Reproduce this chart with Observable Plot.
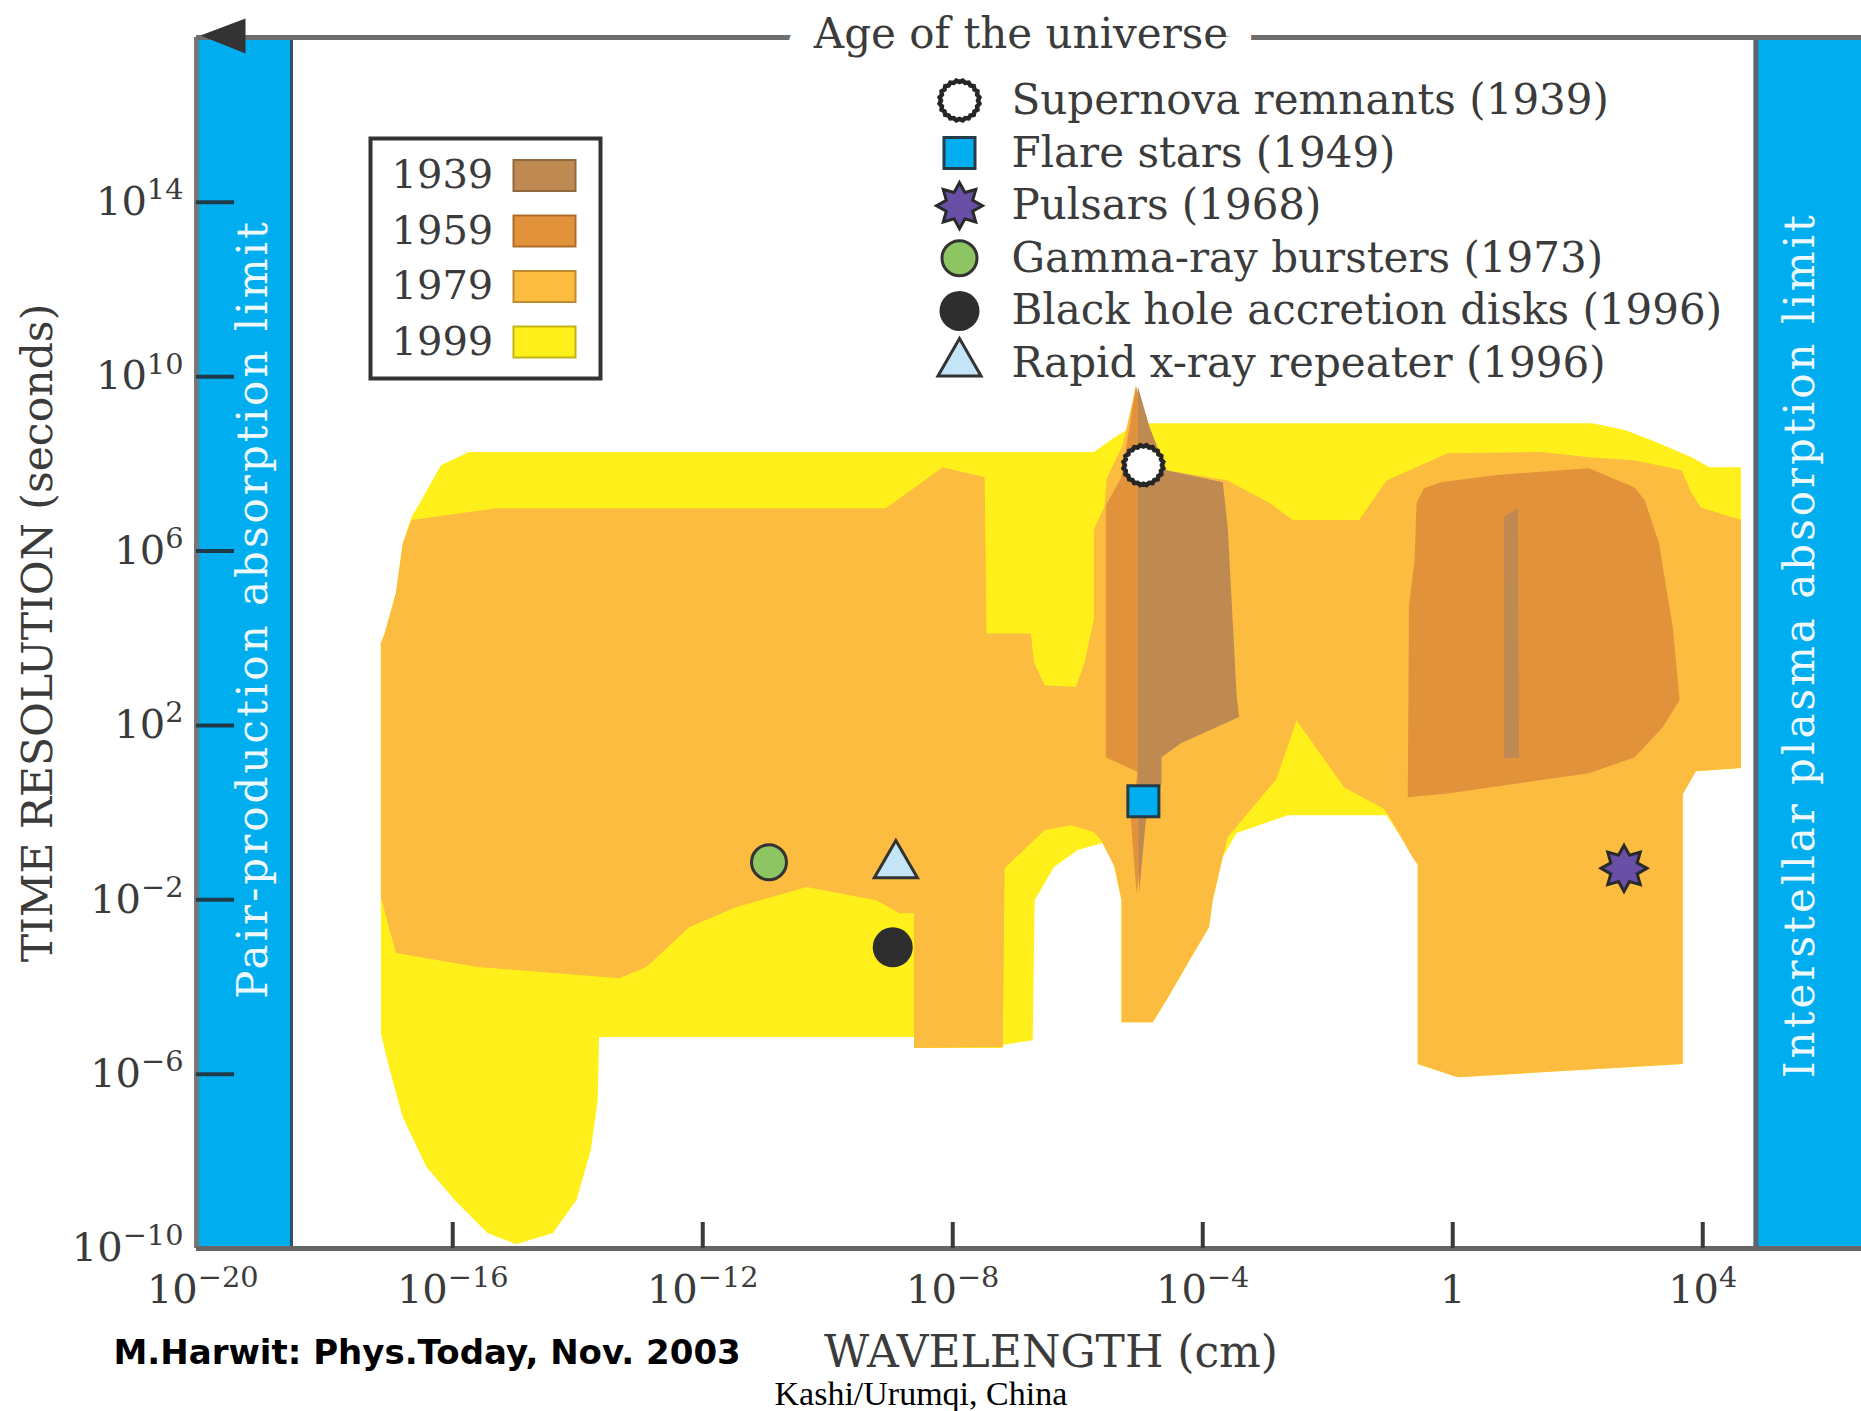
<!DOCTYPE html>
<html>
<head>
<meta charset="utf-8">
<script src="https://cdn.jsdelivr.net/npm/d3@7"></script>
<script src="https://cdn.jsdelivr.net/npm/@observablehq/plot@0.6"></script>
<style>
  html, body { margin: 0; padding: 0; background: #fff; overflow: hidden; }
  #chart { width: 1861px; height: 1411px; overflow: hidden; }
  #chart svg { max-width: none; }
</style>
</head>
<body>
<div id="chart"></div>
<script>
// ---- axes, in log10 units: wavelength (cm) and time resolution (s) ----
const wavelengthExtent = [-20.1, 6.54];
const timeExtent = [-10, 17.78];
const ageOfUniverse = 17.78;
const wavelengthTicks = [-20, -16, -12, -8, -4, 0, 4];
const timeTicks = [-10, -6, -2, 2, 6, 10, 14];

// ---- absorption limits (log10 cm) ----
const limitLabels = ["Pair-production absorption limit", "Interstellar plasma absorption limit"];
const limitFrom = [-20.1, 4.85];
const limitTo = [-18.58, 6.54];

// ---- observational coverage by year; outline vertices as [log10 λ, log10 t] ----
const eras = ["1939", "1959", "1979", "1999"];

const coverage1999 = [
  [-15.74, 8.27], [-5.74, 8.27], [-5.41, 8.61], [-5.04, 8.93], [2.24, 8.93], [2.77, 8.77],
  [3.30, 8.47], [3.82, 8.15], [4.11, 7.92], [4.61, 7.92], [4.61, 1.02], [3.89, 0.95],
  [3.68, 0.42], [3.68, -5.77], [0.08, -6.07], [-0.56, -5.77], [-0.56, -1.20], [-0.83, -0.56],
  [-1.06, -0.06], [-2.64, -0.06], [-3.46, -0.47], [-3.68, -1.02], [-3.84, -2.01], [-3.90, -2.63],
  [-4.21, -3.38], [-4.58, -4.30], [-4.80, -4.81], [-5.30, -4.81], [-5.30, -2.01], [-5.44, -1.09],
  [-5.60, -0.70], [-6.00, -0.86], [-6.38, -1.25], [-6.69, -2.01], [-6.72, -5.22], [-7.20, -5.33],
  [-7.20, -5.40], [-8.62, -5.40], [-8.62, -5.15], [-13.66, -5.15], [-13.68, -6.60], [-13.79, -7.74],
  [-14.02, -8.89], [-14.40, -9.65], [-14.99, -9.90], [-15.44, -9.65], [-15.97, -8.89], [-16.42, -8.13],
  [-16.80, -6.99], [-17.02, -5.84], [-17.15, -5.06], [-17.15, 3.89], [-17.09, 4.11], [-16.91, 5.03],
  [-16.80, 6.18], [-16.66, 6.78], [-16.50, 7.17], [-16.19, 7.97]
];

const coverage1979 = [
  [-16.66, 6.71], [-15.30, 6.98], [-9.07, 6.98], [-8.16, 7.92], [-7.49, 7.69], [-7.46, 4.11],
  [-6.75, 4.11], [-6.70, 3.45], [-6.53, 2.92], [-6.03, 2.88], [-5.89, 3.45], [-5.74, 4.46],
  [-5.74, 6.50], [-5.57, 7.03], [-5.54, 7.65], [-5.28, 8.43], [-5.07, 9.78], [-4.83, 8.54],
  [-4.58, 7.85], [-3.60, 7.62], [-2.93, 7.10], [-2.56, 6.71], [-1.50, 6.71], [-1.06, 7.62],
  [-0.08, 8.24], [1.42, 8.27], [2.18, 8.15], [2.91, 8.08], [3.66, 7.85], [3.82, 7.33],
  [3.97, 7.00], [4.61, 6.71], [4.61, 1.02], [3.89, 0.95], [3.68, 0.42], [3.68, -5.77],
  [0.08, -6.07], [-0.56, -5.77], [-0.56, -1.20], [-0.67, -0.97], [-0.99, -0.15], [-1.10, 0.08],
  [-1.74, 0.58], [-2.50, 2.12], [-2.82, 0.77], [-3.60, -0.56], [-3.68, -1.02], [-3.84, -2.01],
  [-3.90, -2.63], [-4.21, -3.38], [-4.58, -4.30], [-4.80, -4.81], [-5.30, -4.81], [-5.30, -2.01],
  [-5.41, -1.25], [-5.63, -0.63], [-5.74, -0.45], [-6.10, -0.29], [-6.53, -0.40], [-7.17, -1.28],
  [-7.20, -5.38], [-8.62, -5.40], [-8.62, -2.31], [-8.85, -2.31], [-9.22, -2.01], [-10.34, -1.71],
  [-11.47, -2.17], [-12.22, -2.63], [-12.90, -3.54], [-13.34, -3.80], [-15.60, -3.54], [-16.91, -3.22],
  [-17.15, -1.94], [-17.15, 3.89], [-17.09, 4.11], [-16.91, 5.03], [-16.80, 6.18]
];

const coverage1959 = [
  [[-5.07, 9.78], [-4.83, 8.54], [-4.83, 0.74], [-4.91, -0.17], [-5.06, -1.85], [-5.15, -0.17],
   [-5.04, 0.93], [-5.55, 1.27], [-5.55, 7.05], [-5.31, 7.67], [-5.18, 8.77]],
  [[-0.58, 7.10], [-0.46, 7.44], [-0.19, 7.58], [0.67, 7.74], [2.18, 7.90], [2.91, 7.46],
   [3.07, 7.17], [3.30, 6.18], [3.52, 4.25], [3.63, 2.58], [3.36, 1.96], [2.91, 1.27],
   [2.18, 0.90], [-0.08, 0.44], [-0.72, 0.35], [-0.70, 4.76], [-0.61, 5.79]]
];

const coverage1939 = [
  [[-5.04, 9.78], [-4.85, 8.84], [-4.58, 7.85], [-3.68, 7.58], [-3.60, 6.55], [-3.46, 2.74],
   [-3.42, 2.19], [-4.35, 1.59], [-4.66, 1.27], [-4.66, 0.67], [-4.91, -0.17], [-5.02, -1.85],
   [-5.04, 0.97]],
  [[0.82, 6.78], [1.04, 6.98], [1.06, 1.25], [0.82, 1.25]]
];

// ---- discoveries ----
const objectNames = ["Supernova remnants", "Flare stars", "Pulsars", "Gamma-ray bursters",
  "Black hole accretion disks", "Rapid x-ray repeater"];
const discoveryYear = [1939, 1949, 1968, 1973, 1996, 1996];
const objectWavelength = [-4.95, -4.95, 2.74, -10.94, -8.96, -8.91];
const objectTimescale = [7.97, 0.26, -1.28, -1.14, -3.09, -1.21];

// ---------------------------------------------------------------------------
const W = 1861, H = 1411;
const M = {top: 37, right: 0, bottom: 163, left: 196};
const frameW = W - M.left - M.right;
const frameH = H - M.top - M.bottom;
const ink = "#3b3b3b";
const eraFill = ["#BE8A52", "#E3923C", "#FCBC40", "#FFF01C"];
const bandBlue = "#00AEEF";

const SUP = {"-": "\u207B", "0": "\u2070", "1": "\u00B9", "2": "\u00B2", "3": "\u00B3",
  "4": "\u2074", "5": "\u2075", "6": "\u2076", "7": "\u2077", "8": "\u2078", "9": "\u2079"};
const pow10 = e => e === 0 ? "1" : "10" + String(e).replace(/[-0-9]/g, c => SUP[c]);

// outlines -> vertex rows, one series per piece, painted oldest on top
const outlines = [
  {era: "1999", pieces: [coverage1999]},
  {era: "1979", pieces: [coverage1979]},
  {era: "1959", pieces: coverage1959},
  {era: "1939", pieces: coverage1939}
];
const coverage = outlines.flatMap(({era, pieces}) =>
  pieces.flatMap((piece, k) => piece.map(([x, y]) => ({era, piece: `${era}-${k}`, x, y}))));

const limits = limitLabels.map((label, i) => ({label, x1: limitFrom[i], x2: limitTo[i]}));

// marker shapes
const sunburst = {
  draw(context, size) {
    const r = Math.sqrt(size / Math.PI), n = 20;
    for (let i = 0; i < 2 * n; ++i) {
      const a = (i * Math.PI) / n, rr = i % 2 ? r * 1.09 : r;
      const px = rr * Math.cos(a), py = rr * Math.sin(a);
      i ? context.lineTo(px, py) : context.moveTo(px, py);
    }
    context.closePath();
  }
};
const star8 = {
  draw(context, size) {
    const r = Math.sqrt(size / Math.PI), n = 8;
    for (let i = 0; i < 2 * n; ++i) {
      const a = (i * Math.PI) / n - Math.PI / 2, rr = i % 2 ? r * 0.62 : r;
      const px = rr * Math.cos(a), py = rr * Math.sin(a);
      i ? context.lineTo(px, py) : context.moveTo(px, py);
    }
    context.closePath();
  }
};
const arrowLeft = {
  draw(context) {
    context.moveTo(4, -2); context.lineTo(49, -19); context.lineTo(49, 16); context.closePath();
  }
};

const objectStyle = [
  {symbol: sunburst, r: 18.5, fill: "#ffffff", stroke: "#262626", strokeWidth: 4.5},
  {symbol: "square", r: 17.5, fill: "#00AEEF", stroke: "#243c48", strokeWidth: 3},
  {symbol: star8, r: 23, fill: "#6A4FA6", stroke: "#2a2a2a", strokeWidth: 3},
  {symbol: "circle", r: 17.5, fill: "#8DC563", stroke: "#333333", strokeWidth: 3},
  {symbol: "circle", r: 20, fill: "#2e2e2e", stroke: "none"},
  {symbol: "triangle", r: 16, fill: "#C3E5F7", stroke: "#333333", strokeWidth: 3}
];

// page-pixel placement helpers for keys and titles
const at = (px, py) => ({frameAnchor: "top-left", dx: px - M.left, dy: py - M.top});
const box = (l, t, r, b) => ({insetLeft: l - M.left, insetTop: t - M.top,
  insetRight: W - M.right - r, insetBottom: H - M.bottom - b});

const yearKey = {left: 370, top: 138, right: 600, bottom: 378, labelX: 391,
  swatchX1: 513, swatchX2: 575, row0: 175, step: 55.5, swatchH: 31};
const objectKey = {symbolX: 959, labelX: 1011, row0: 100, step: 52.6};

const marks = [
  // coverage regions
  Plot.line(coverage, {x: "x", y: "y", z: "piece", fill: "era", stroke: "none", curve: "linear-closed"}),

  // absorption limit bands
  Plot.rect(limits, {x1: "x1", x2: "x2", fill: bandBlue}),
  Plot.ruleX([limits[0].x2], {stroke: "#2c5266", strokeWidth: 3}),
  Plot.ruleX([limits[1].x1], {stroke: "#5a646a", strokeWidth: 5}),
  Plot.text([limits[0].label], {frameAnchor: "left", dx: 57, dy: -34, rotate: -90,
    textAnchor: "middle", lineAnchor: "middle", text: d => d, fill: "#eef9ff", fontSize: 42}),
  Plot.text([limits[1].label], {frameAnchor: "right", dx: -61, dy: 2, rotate: -90,
    textAnchor: "middle", lineAnchor: "middle", text: d => d, fill: "#eef9ff", fontSize: 42}),

  // frame: left edge, wavelength axis line, age-of-universe line
  Plot.ruleX([wavelengthExtent[0]], {stroke: "#777777", strokeWidth: 5}),
  Plot.ruleY([timeExtent[0]], {stroke: "#666666", strokeWidth: 5}),
  Plot.ruleY([ageOfUniverse], {stroke: "#6d6d6d", strokeWidth: 5}),
  Plot.text(["Age of the universe"], {frameAnchor: "top", dx: -8, dy: -3, text: d => d,
    textAnchor: "middle", fontSize: 42, fill: ink, stroke: "white", strokeWidth: 50,
    strokeLinejoin: "round", paintOrder: "stroke", lineAnchor: "middle"}),
  Plot.dot([ageOfUniverse], {x: () => wavelengthExtent[0], y: d => d, symbol: arrowLeft,
    r: 1, fill: "#333333", stroke: "none"}),

  // inward tick marks
  Plot.tickY(timeTicks.filter(t => t > timeExtent[0]), {y: d => d, insetRight: frameW - 38,
    stroke: "#1f3a48", strokeWidth: 4}),
  Plot.tickX(wavelengthTicks.filter(t => t > limitTo[0]), {x: d => d, insetTop: frameH - 26,
    stroke: "#3a3a3a", strokeWidth: 4}),

  // discoveries
  ...objectNames.map((name, i) => Plot.dot([i], {x: j => objectWavelength[j], y: j => objectTimescale[j],
    ...objectStyle[i]})),

  // year key
  Plot.frame({...box(yearKey.left, yearKey.top, yearKey.right, yearKey.bottom),
    fill: "white", stroke: "#333333", strokeWidth: 4}),
  ...eras.map((era, i) => {
    const cy = yearKey.row0 + i * yearKey.step;
    return Plot.frame({...box(yearKey.swatchX1, cy - yearKey.swatchH / 2, yearKey.swatchX2, cy + yearKey.swatchH / 2),
      fill: eraFill[i], stroke: d3.color(eraFill[i]).darker(0.8).formatHex(), strokeWidth: 2});
  }),
  ...eras.map((era, i) => Plot.text([era], {...at(yearKey.labelX, yearKey.row0 + i * yearKey.step),
    text: d => d, textAnchor: "start", lineAnchor: "middle", fontSize: 40, fill: ink})),

  // discovery key
  ...objectNames.map((name, i) => Plot.dot([i], {...at(objectKey.symbolX, objectKey.row0 + i * objectKey.step),
    ...objectStyle[i]})),
  ...objectNames.map((name, i) => Plot.text([i], {...at(objectKey.labelX, objectKey.row0 + i * objectKey.step),
    text: j => `${objectNames[j]} (${discoveryYear[j]})`, textAnchor: "start", lineAnchor: "middle",
    fontSize: 42, fill: ink})),

  // axis titles and credits
  Plot.text(["TIME RESOLUTION (seconds)"], {frameAnchor: "left", dx: -158, dy: -10, rotate: -90,
    text: d => d, textAnchor: "middle", lineAnchor: "middle", fontSize: 42.5, fill: ink}),
  Plot.text(["WAVELENGTH (cm)"], {frameAnchor: "bottom", dx: 22, dy: 104, text: d => d,
    textAnchor: "middle", lineAnchor: "middle", fontSize: 44, fill: ink}),
  Plot.text(["M.Harwit: Phys.Today, Nov. 2003"], {frameAnchor: "bottom-left", dx: -83, dy: 105,
    text: d => d, textAnchor: "start", lineAnchor: "middle", fontFamily: "DejaVu Sans",
    fontWeight: "bold", fontSize: 34, fill: "#000"}),
  Plot.text(["Kashi/Urumqi, China"], {frameAnchor: "bottom-left", dx: 578, dy: 146,
    text: d => d, textAnchor: "start", lineAnchor: "middle", fontFamily: "Liberation Serif",
    fontSize: 34, fill: "#000"})
];

const chart = Plot.plot({
  width: W,
  height: H,
  marginTop: M.top,
  marginRight: M.right,
  marginBottom: M.bottom,
  marginLeft: M.left,
  style: {fontFamily: "'DejaVu Serif', serif", fontSize: "40px", color: ink, background: "white", overflow: "visible"},
  x: {domain: wavelengthExtent, ticks: wavelengthTicks, tickFormat: pow10, tickSize: 0, tickPadding: 26, label: null},
  y: {domain: timeExtent, ticks: timeTicks, tickFormat: pow10, tickSize: 0, tickPadding: 13, label: null},
  color: {type: "ordinal", domain: eras, range: eraFill},
  marks
});

// set powers of ten as raised exponents; space out the band captions
const SUP_ASCII = Object.fromEntries(Object.entries(SUP).map(([k, v]) => [v, k === "-" ? "\u2212" : k]));
chart.querySelectorAll("text").forEach(node => {
  if (limitLabels.includes(node.textContent)) {
    node.style.letterSpacing = "3px";
    return;
  }
  const m = /^10([\u207B\u2070\u00B9\u00B2\u00B3\u2074-\u2079]+)$/.exec(node.textContent);
  if (!m) return;
  node.textContent = "10";
  const exp = document.createElementNS("http://www.w3.org/2000/svg", "tspan");
  exp.setAttribute("font-size", "0.72em");
  exp.setAttribute("dy", "-0.55em");
  exp.textContent = [...m[1]].map(c => SUP_ASCII[c]).join("");
  node.appendChild(exp);
});

document.getElementById("chart").append(chart);
</script>
</body>
</html>
